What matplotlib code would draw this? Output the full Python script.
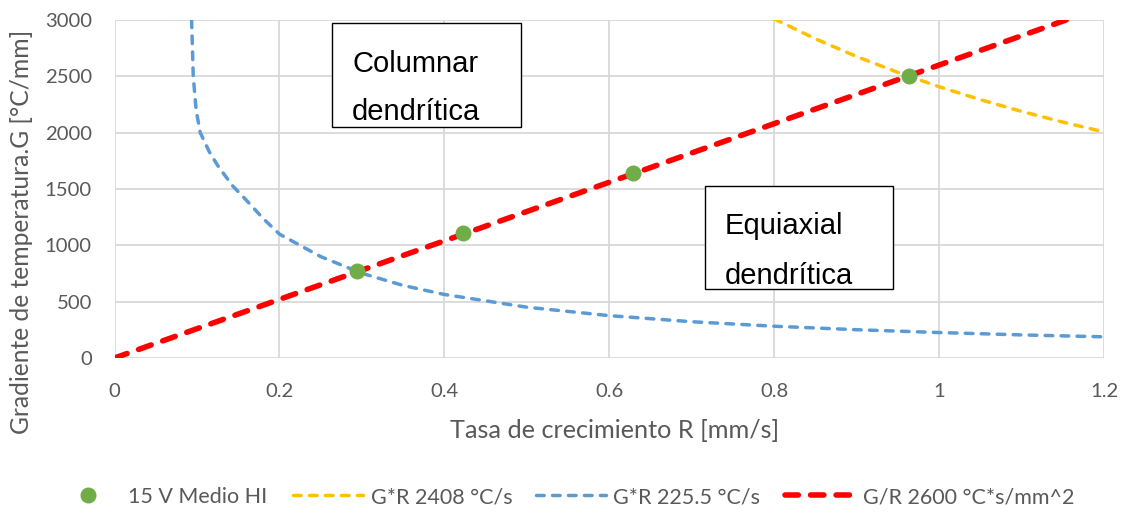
import matplotlib
matplotlib.use("Agg")
import matplotlib.pyplot as plt
from matplotlib.patches import Rectangle

# Measured points (growth rate R vs thermal gradient G)
r_points = [0.294, 0.423, 0.629, 0.963]
g_points = [770, 1110, 1640, 2505]

# Iso-lines
r_yellow = [0.80, 0.85, 0.90, 0.95, 1.00, 1.05, 1.10, 1.15, 1.20]
g_yellow = [3010, 2833, 2676, 2535, 2408, 2293, 2189, 2094, 2007]

r_blue = [0.0935, 0.0955, 0.099, 0.104, 0.115, 0.125, 0.143, 0.16, 0.18, 0.20,
          0.25, 0.30, 0.35, 0.40, 0.50, 0.60, 0.70, 0.80, 0.90, 1.00, 1.10, 1.20]
g_blue = [3000, 2500, 2200, 2000, 1830, 1710, 1530, 1400, 1240, 1100,
          900, 752, 644, 564, 451, 376, 322, 282, 251, 226, 205, 188]

r_red = [0.0, 1.2]
g_red = [0.0, 3120]

x_ticks = [0, 0.2, 0.4, 0.6, 0.8, 1, 1.2]
x_tick_labels = ["0", "0.2", "0.4", "0.6", "0.8", "1", "1.2"]
y_ticks = [0, 500, 1000, 1500, 2000, 2500, 3000]

label_points = "15 V Medio HI"
label_yellow = "G*R 2408 °C/s"
label_blue = "G*R 225.5 °C/s"
label_red = "G/R 2600 °C*s/mm^2"

GREEN = "#70AD47"
YELLOW = "#FFC000"
BLUE = "#5B9BD5"
RED = "#FF0000"
GRID = "#D9D9D9"
TXT = "#595959"

FONT = ["Lato", "DejaVu Sans"]
BOX_FONT = ["Liberation Sans", "DejaVu Sans"]
plt.rcParams["font.family"] = FONT

W, H = 1127, 514
fig = plt.figure(figsize=(W / 100, H / 100), dpi=100)
renderer = fig.canvas.get_renderer()


def fit_size(text, width_px, family=FONT, base=20.0):
    """Font size (pt) at which `text` spans `width_px` pixels."""
    t = fig.text(0, 0, text, fontsize=base, family=family)
    w = t.get_window_extent(renderer).width
    t.remove()
    return base * width_px / w


tick_fs = fit_size("3000", 47)
xlab_fs = fit_size("Tasa de crecimiento R [mm/s]", 330)
ylab_fs = fit_size("Gradiente de temperatura.G [°C/mm]", 406)
leg_fs = fit_size(label_blue, 146)
box_fs = fit_size("Columnar", 126, family=BOX_FONT)

L, R, B, T = 114.5, 1104, 358, 20
ax = fig.add_axes([L / W, 1 - B / H, (R - L) / W, (B - T) / H])

ax.plot(r_yellow, g_yellow, color=YELLOW, lw=2.5, dashes=(2.2, 2.4),
        dash_capstyle="round", label=label_yellow, zorder=3)
ax.plot(r_blue, g_blue, color=BLUE, lw=2.5, dashes=(2.2, 2.4),
        dash_capstyle="round", label=label_blue, zorder=3)
ax.plot(r_red, g_red, color=RED, lw=4, dashes=(2.4, 2.2),
        dash_capstyle="round", label=label_red, zorder=4)
ax.plot(r_points, g_points, linestyle="none", marker="o", ms=10.5,
        color=GREEN, label=label_points, zorder=5)

ax.set_xlim(0, 1.2)
ax.set_ylim(0, 3000)
ax.set_xticks(x_ticks)
ax.set_xticklabels(x_tick_labels)
ax.set_yticks(y_ticks)
ax.grid(True, color=GRID, lw=1.3)
ax.set_axisbelow(True)
for s in ax.spines.values():
    s.set_visible(False)
ax.tick_params(length=0, labelsize=tick_fs, colors=TXT)
ax.tick_params(axis="x", pad=18)
ax.tick_params(axis="y", pad=16.4)

fig.text(615 / W, 1 - 438 / H, "Tasa de crecimiento R [mm/s]",
         ha="center", va="baseline", fontsize=xlab_fs, color=TXT)
fig.text(21.5 / W, 1 - 232 / H, "Gradiente de temperatura.G [°C/mm]",
         rotation=90, ha="center", va="center", fontsize=ylab_fs, color=TXT)

# Region annotation boxes (axes-fraction coordinates)
boxes = [
    ((331.5, 520.5, 23, 127), 352, ["Columnar", "dendrítica"], [71.7, 120]),
    ((705, 893, 186, 289), 725, ["Equiaxial", "dendrítica"], [234, 284]),
]
for (x0, x1, y0, y1), tx, lines, ys in boxes:
    fx0, fx1 = (x0 - L) / (R - L), (x1 - L) / (R - L)
    fy0, fy1 = (B - y1) / (B - T), (B - y0) / (B - T)
    ax.add_patch(Rectangle((fx0, fy0), fx1 - fx0, fy1 - fy0, transform=ax.transAxes,
                           facecolor="white", edgecolor="black", lw=1.0, zorder=6))
    for line, yy in zip(lines, ys):
        ax.text((tx - L) / (R - L), (B - yy) / (B - T), line, transform=ax.transAxes,
                ha="left", va="baseline", fontsize=box_fs, family=BOX_FONT,
                color="black", zorder=7)

# Legend entries placed individually along the bottom
handles, labels = ax.get_legend_handles_labels()
hmap = dict(zip(labels, handles))
fs_px = leg_fs * 100 / 72
entries = [
    (label_points, 78, 20, 128),
    (label_yellow, 293, 70, 371),
    (label_blue, 536, 70, 613),
    (label_red, 785, 70, 863),
]
for lab, x_start, hlen, x_text in entries:
    fig.legend([hmap[lab]], [lab], loc="center left",
               bbox_to_anchor=(x_start / W, 1 - 497 / H),
               frameon=False, fontsize=leg_fs, labelcolor=TXT,
               borderpad=0, borderaxespad=0,
               handlelength=hlen / fs_px,
               handletextpad=(x_text - x_start - hlen) / fs_px)

fig.savefig("out.png", dpi=100)
